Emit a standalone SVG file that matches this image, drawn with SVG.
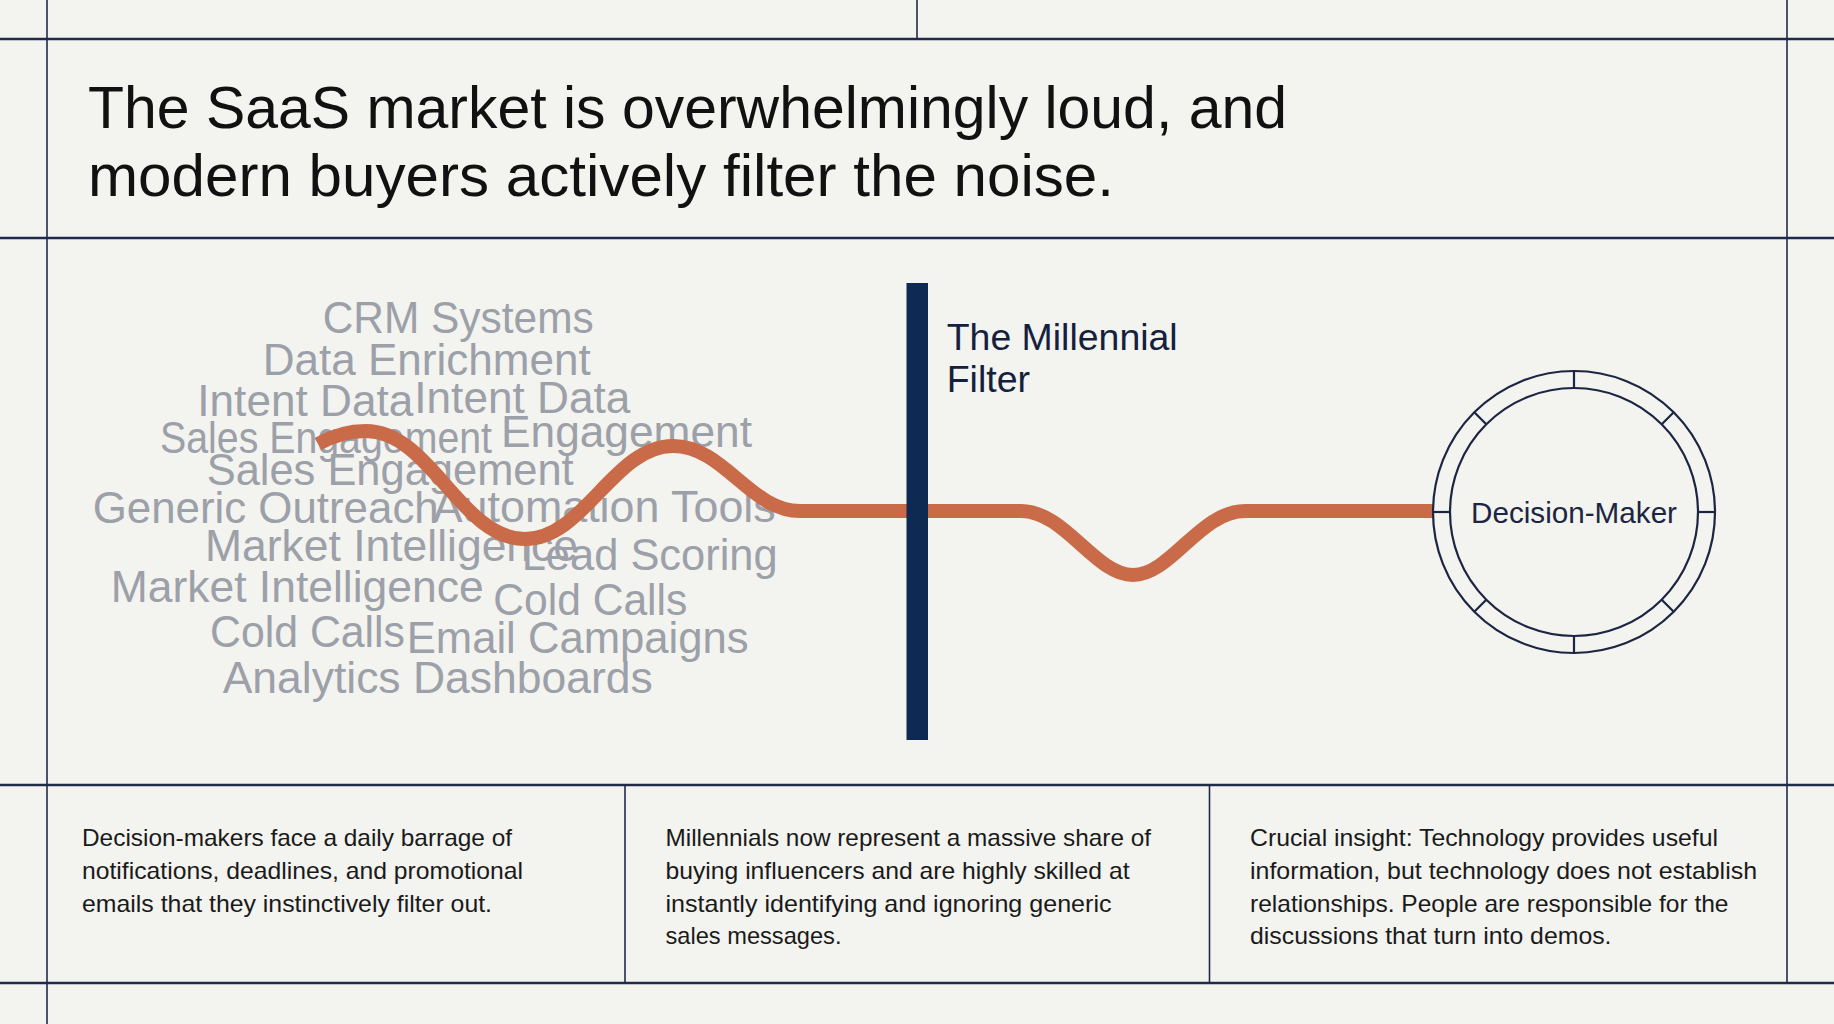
<svg xmlns="http://www.w3.org/2000/svg" width="1834" height="1024" viewBox="0 0 1834 1024">
  <style>
    .bg { fill: #f3f3ef; }
    .hline { stroke: #1e2a48; stroke-width: 2.5; fill: none; }
    .vline { stroke: #1e2a48; stroke-width: 1.6; fill: none; }
    .title { font-family: "Liberation Sans", Arial, sans-serif; font-size: 60px; fill: #111111; }
    .cloud { font-family: "Liberation Sans", Arial, sans-serif; font-size: 44px; fill: #9ca0a8; }
    .wave { stroke: #c96b48; stroke-width: 14; fill: none; stroke-linejoin: round; }
    .filterbar { fill: #0f2a52; }
    .filterlabel { font-family: "Liberation Sans", Arial, sans-serif; font-size: 37.5px; fill: #14213d; }
    .ring { stroke: #1c2541; stroke-width: 2.2; fill: none; }
    .dmlabel { font-family: "Liberation Sans", Arial, sans-serif; font-size: 29.5px; fill: #1c2541; text-anchor: middle; }
    .body { font-family: "Liberation Sans", Arial, sans-serif; font-size: 24px; fill: #1a1a1a; }
  </style>

  <rect class="bg" x="0" y="0" width="1834" height="1024"/>

  <g id="grid">
    <line class="hline" x1="0" y1="39" x2="1834" y2="39"/>
    <line class="hline" x1="0" y1="238" x2="1834" y2="238"/>
    <line class="hline" x1="0" y1="785" x2="1834" y2="785"/>
    <line class="hline" x1="0" y1="983" x2="1834" y2="983"/>
    <line class="vline" x1="47" y1="0" x2="47" y2="1024"/>
    <line class="vline" x1="1787" y1="0" x2="1787" y2="983"/>
    <line class="vline" x1="917" y1="0" x2="917" y2="39"/>
    <line class="vline" x1="625" y1="785" x2="625" y2="983"/>
    <line class="vline" x1="1209.5" y1="785" x2="1209.5" y2="983"/>
  </g>

  <g id="title">
    <text class="title" x="88" y="127.5" textLength="1199" lengthAdjust="spacingAndGlyphs">The SaaS market is overwhelmingly loud, and</text>
    <text class="title" x="88" y="196" textLength="1026" lengthAdjust="spacingAndGlyphs">modern buyers actively filter the noise.</text>
  </g>

  <g id="noise-cloud">
    <text class="cloud" x="322.7" y="333" textLength="271" lengthAdjust="spacingAndGlyphs">CRM Systems</text>
    <text class="cloud" x="262.7" y="375" textLength="328" lengthAdjust="spacingAndGlyphs">Data Enrichment</text>
    <text class="cloud" x="197.3" y="416" textLength="216" lengthAdjust="spacingAndGlyphs">Intent Data</text>
    <text class="cloud" x="414.3" y="412.5" textLength="216" lengthAdjust="spacingAndGlyphs">Intent Data</text>
    <text class="cloud" x="160" y="452.7" textLength="332" lengthAdjust="spacingAndGlyphs">Sales Engagement</text>
    <text class="cloud" x="501" y="447" textLength="251" lengthAdjust="spacingAndGlyphs">Engagement</text>
    <text class="cloud" x="206.7" y="484.5" textLength="367" lengthAdjust="spacingAndGlyphs">Sales Engagement</text>
    <text class="cloud" x="92.7" y="522.7" textLength="346" lengthAdjust="spacingAndGlyphs">Generic Outreach</text>
    <text class="cloud" x="432.7" y="522" textLength="343" lengthAdjust="spacingAndGlyphs">Automation Tools</text>
    <text class="cloud" x="205" y="561" textLength="373" lengthAdjust="spacingAndGlyphs">Market Intelligence</text>
    <text class="cloud" x="521.7" y="569.5" textLength="256" lengthAdjust="spacingAndGlyphs">Lead Scoring</text>
    <text class="cloud" x="110.7" y="602" textLength="373" lengthAdjust="spacingAndGlyphs">Market Intelligence</text>
    <text class="cloud" x="493.3" y="614.5" textLength="194" lengthAdjust="spacingAndGlyphs">Cold Calls</text>
    <text class="cloud" x="210" y="646.7" textLength="195" lengthAdjust="spacingAndGlyphs">Cold Calls</text>
    <text class="cloud" x="406.7" y="653" textLength="342" lengthAdjust="spacingAndGlyphs">Email Campaigns</text>
    <text class="cloud" x="222.7" y="692.5" textLength="430" lengthAdjust="spacingAndGlyphs">Analytics Dashboards</text>
  </g>

  <g id="connectors">
    <path class="wave" d="M 318 444 C 334 435, 350 431, 366 431 C 430 431, 461 539, 525 539 C 584 539, 614 446, 673 446 C 724 446, 750 511, 800 511 L 1021 511 C 1065 511, 1095 575, 1133 575 C 1171 575, 1200 511, 1245 511 L 1433 511"/>
  </g>

  <g id="millennial-filter">
    <rect class="filterbar" x="906.5" y="283" width="21.5" height="457"/>
    <text class="filterlabel" x="946.7" y="350" textLength="231" lengthAdjust="spacingAndGlyphs">The Millennial</text>
    <text class="filterlabel" x="946.7" y="392">Filter</text>
  </g>

  <g id="decision-maker">
    <circle class="ring" cx="1574" cy="512" r="141"/>
    <circle class="ring" cx="1574" cy="512" r="124"/>
    <line class="ring" x1="1574" y1="388" x2="1574" y2="371"/>
    <line class="ring" x1="1574" y1="636" x2="1574" y2="653"/>
    <line class="ring" x1="1450" y1="512" x2="1433" y2="512"/>
    <line class="ring" x1="1698" y1="512" x2="1715" y2="512"/>
    <line class="ring" x1="1661.7" y1="424.3" x2="1673.7" y2="412.3"/>
    <line class="ring" x1="1486.3" y1="424.3" x2="1474.3" y2="412.3"/>
    <line class="ring" x1="1661.7" y1="599.7" x2="1673.7" y2="611.7"/>
    <line class="ring" x1="1486.3" y1="599.7" x2="1474.3" y2="611.7"/>
    <text class="dmlabel" x="1574" y="522.5" textLength="206" lengthAdjust="spacingAndGlyphs">Decision-Maker</text>
  </g>

  <g id="panel-1">
    <text class="body" x="82" y="845.5" textLength="430" lengthAdjust="spacingAndGlyphs">Decision-makers face a daily barrage of</text>
    <text class="body" x="82" y="878.5" textLength="441" lengthAdjust="spacingAndGlyphs">notifications, deadlines, and promotional</text>
    <text class="body" x="82" y="911.5" textLength="410" lengthAdjust="spacingAndGlyphs">emails that they instinctively filter out.</text>
  </g>

  <g id="panel-2">
    <text class="body" x="665.5" y="845.5" textLength="485.5" lengthAdjust="spacingAndGlyphs">Millennials now represent a massive share of</text>
    <text class="body" x="665.5" y="878.5" textLength="464" lengthAdjust="spacingAndGlyphs">buying influencers and are highly skilled at</text>
    <text class="body" x="665.5" y="911.5" textLength="446" lengthAdjust="spacingAndGlyphs">instantly identifying and ignoring generic</text>
    <text class="body" x="665.5" y="944" textLength="176" lengthAdjust="spacingAndGlyphs">sales messages.</text>
  </g>

  <g id="panel-3">
    <text class="body" x="1250" y="845.5" textLength="468" lengthAdjust="spacingAndGlyphs">Crucial insight: Technology provides useful</text>
    <text class="body" x="1250" y="878.5" textLength="507" lengthAdjust="spacingAndGlyphs">information, but technology does not establish</text>
    <text class="body" x="1250" y="911.5" textLength="478.5" lengthAdjust="spacingAndGlyphs">relationships. People are responsible for the</text>
    <text class="body" x="1250" y="944" textLength="361.5" lengthAdjust="spacingAndGlyphs">discussions that turn into demos.</text>
  </g>
</svg>
